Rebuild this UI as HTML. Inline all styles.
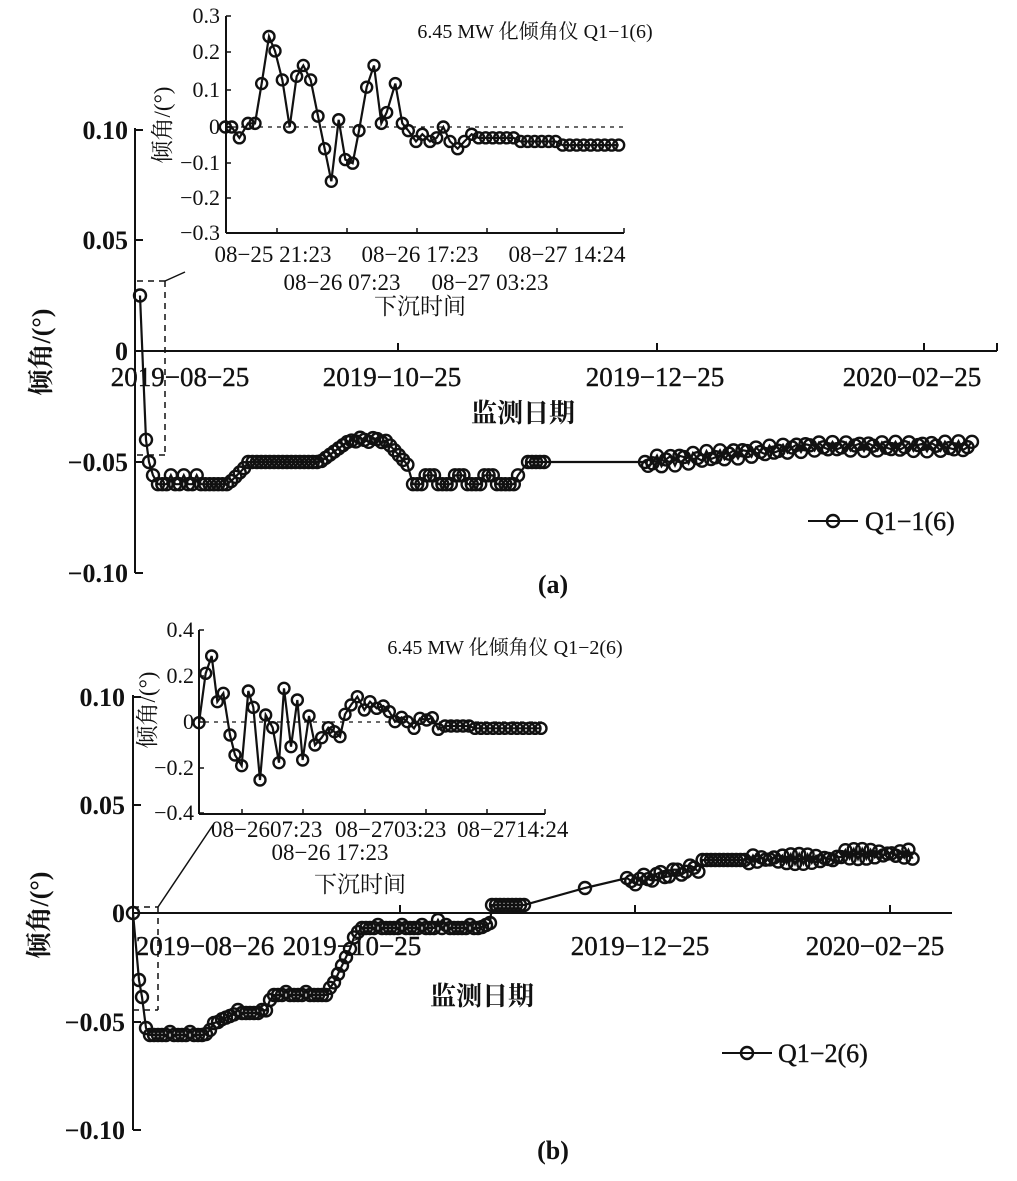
<!DOCTYPE html>
<html><head><meta charset="utf-8"><style>
body{margin:0;background:#fff}
text{font-family:"Liberation Serif","Noto Serif CJK SC",serif;fill:#111}
</style></head><body>
<svg id="s" width="1017" height="1176" xmlns="http://www.w3.org/2000/svg"></svg>
<script>
const S=document.getElementById('s');let h='';
function ln(x1,y1,x2,y2,w,d){h+=`<line x1="${x1}" y1="${y1}" x2="${x2}" y2="${y2}" stroke="#111" stroke-width="${w||2}" ${d?'stroke-dasharray="'+d+'"':''}/>`;}
function tx(x,y,t,sz,anc,extra){h+=`<text x="${x}" y="${y}" font-size="${sz}" text-anchor="${anc||'middle'}" ${extra||''}>${t}</text>`;}
function series(pts,r,w){h+=`<polyline fill="none" stroke="#111" stroke-width="${w||2.2}" points="${pts.map(p=>p.join(',')).join(' ')}"/>`;
 pts.forEach(p=>{h+=`<circle cx="${p[0]}" cy="${p[1]}" r="${r}" fill="none" stroke="#111" stroke-width="2.4"/>`;});}
const B='font-weight="bold"';
const D='stroke="#111" stroke-width="0.4"';
// ===== (a) main =====
ln(135,128,135,573);ln(135,351,997,351);
[[130,'0.10'],[240,'0.05'],[351,'0'],[462,'−0.05'],[573,'−0.10']].forEach(a=>{ln(135,a[0],143,a[0]);tx(128,a[0]+9,a[1],26,'end',B);});
[398,657,924,997].forEach(x=>ln(x,351,x,343));
tx(180,386,'2019−08−25',27,'middle',D);tx(392,386,'2019−10−25',27,'middle',D);tx(655,386,'2019−12−25',27,'middle',D);tx(912,386,'2020−02−25',27,'middle',D);
tx(523,422,'监测日期',26,'middle',B);
tx(0,0,'倾角/(°)',26,'middle','transform="translate(50,352) rotate(-90)" '+B);
function Ya(v){return 351-v*2220;}
let pa=[[140,Ya(0.025)],[146,Ya(-0.04)],[149,Ya(-0.05)],[153,Ya(-0.056)]];
for(let x=158;x<=410;x+=4.3){let v;
 if(x<228)v=-0.06+(Math.sin(x)>0.9?0.004:0);else if(x<248)v=-0.06+(x-228)*0.00045;else if(x<320)v=-0.05;else if(x<350)v=-0.05+(x-320)*0.00033;else if(x<385)v=-0.04+0.001*Math.sin(x);else v=-0.04-(x-385)*0.0005;
 pa.push([x,Ya(v)]);}
for(let x=413;x<=522;x+=4.2){pa.push([x,Ya(-0.06+(Math.sin(x*1.7)>0.3?0.004:0))]);}
for(let x=528;x<=545;x+=4)pa.push([x,Ya(-0.05)]);
pa.push([645,Ya(-0.05)]);
for(let x=648;x<=975;x+=4.5){let base=-0.05+Math.max(0,Math.min(1,(x-650)/160))*0.007;pa.push([x,Ya(base+0.004*Math.sin(x*0.9)+0.002*Math.sin(x*2.3))]);}
series(pa,6);
ln(137,281,165,281,1.5,'6,5');ln(165,281,165,455,1.5,'6,5');ln(137,455,165,455,1.5,'6,5');ln(165,281,185,272,1.5);
ln(808,521,858,521);h+=`<circle cx="833" cy="521" r="6" fill="none" stroke="#111" stroke-width="2.4"/>`;tx(865,530,'Q1−1(6)',26,'start',D);
tx(553,593,'(a)',26,'middle',B);
// ===== (a) inset =====
ln(226,16,226,233);ln(226,233,624,233);
[[16,'0.3'],[52,'0.2'],[90,'0.1'],[127,'0'],[163,'−0.1'],[198,'−0.2'],[233,'−0.3']].forEach(a=>{ln(226,a[0],231,a[0],1.5);tx(220,a[0]+7,a[1],22,'end');});
[277,347,417,487,557,624].forEach(x=>ln(x,233,x,228,1.5));
tx(273,262,'08−25 21:23',23);tx(342,290,'08−26 07:23',23);tx(420,262,'08−26 17:23',23);tx(490,290,'08−27 03:23',23);tx(567,262,'08−27 14:24',23);
tx(420,314,'下沉时间',23);
tx(535,38,'6.45 MW 化倾角仪 Q1−1(6)',20);
tx(0,0,'倾角/(°)',23,'middle','transform="translate(170,125) rotate(-90)"');
ln(232,127,624,127,1.3,'4,5');
const ia=[[316,0],[335,0],[358,-.03],[384,.01],[405,.01],[425,.12],[447,.25],[465,.21],[487,.13],[509,0],[530,.14],[550,.17],[572,.13],[594,.03],[614,-.06],[634,-.15],[656,.02],[676,-.09],[698,-.1],[717,-.01],[740,.11],[762,.17],[784,.01],[800,.04],[826,.12],[847,.01],[865,-.01],[888,-.04],[907,-.02],[930,-.04],[950,-.03],[970,0],[990,-.04],[1013,-.06],[1033,-.04],[1055,-.02]];
for(let x=1076;x<=1500;x+=21)ia.push([x,x<1200?-0.03:x<1320?-0.04:-0.05]);
series(ia.map(p=>[120+p[0]/3,127-p[1]*362]),5.5);
// ===== (b) main =====
ln(133,695,133,1130);ln(133,913,952,913);
[[697,'0.10'],[805,'0.05'],[913,'0'],[1022,'−0.05'],[1130,'−0.10']].forEach(a=>{ln(133,a[0],141,a[0]);tx(125,a[0]+9,a[1],26,'end',B);});
[400,635,890].forEach(x=>ln(x,913,x,905));
tx(205,955,'2019−08−26',27,'middle',D);tx(352,955,'2019−10−25',27,'middle',D);tx(640,955,'2019−12−25',27,'middle',D);tx(875,955,'2020−02−25',27,'middle',D);
tx(482,1005,'监测日期',26,'middle',B);
tx(0,0,'倾角/(°)',26,'middle','transform="translate(48,915) rotate(-90)" '+B);
let pb=[[133,913],[139,980],[142,997],[146,1028],[150,1035]];
for(let x=154;x<=490;x+=4){let y;
 if(x<205)y=1035;else if(x<220)y=1035-(x-205);else if(x<238)y=1020-(x-220)*0.4;else if(x<265)y=1013;else if(x<272)y=1013-(x-265)*2.6;else if(x<328)y=995;else if(x<360)y=995-(x-328)*2.1;else if(x<436)y=928;else if(x<440)y=920;else y=928-(x>480?(x-480)*0.5:0);
 pb.push([x,y+(Math.sin(x*1.3)>0.85?-3:0)]);}
for(let x=492;x<=527;x+=4)pb.push([x,905]);
pb.push([585,888]);
for(let x=627;x<=915;x+=4.2){let y;
 if(x<700)y=882-(x-627)*0.2+4*Math.sin(x*1.1);else if(x<745)y=860;else y=862-(x>840?8:3)+5*Math.sin(x*0.8);
 pb.push([x,y]);}
series(pb,6);
ln(133,907,158,907,1.5,'6,5');ln(158,907,158,1010,1.5,'6,5');ln(133,1010,158,1010,1.5,'6,5');ln(158,907,213,825,1.5);
ln(722,1053,772,1053);h+=`<circle cx="747" cy="1053" r="6" fill="none" stroke="#111" stroke-width="2.4"/>`;tx(778,1062,'Q1−2(6)',26,'start',D);
tx(553,1159,'(b)',26,'middle',B);
// ===== (b) inset =====
ln(199,630,199,814);ln(199,814,545,814);
[[630,'0.4'],[676,'0.2'],[722,'0'],[768,'−0.2'],[813,'−0.4']].forEach(a=>{ln(199,a[0],204,a[0],1.5);tx(194,a[0]+7,a[1],22,'end');});
[242,303,365,426,487,545].forEach(x=>ln(x,814,x,809,1.5));
tx(211,837,'08−2607:23',23,'start');tx(335,837,'08−2703:23',23,'start');tx(457,837,'08−2714:24',23,'start');
tx(330,860,'08−26 17:23',23);tx(360,892,'下沉时间',23);
tx(505,654,'6.45 MW 化倾角仪 Q1−2(6)',20);
tx(0,0,'倾角/(°)',23,'middle','transform="translate(155,710) rotate(-90)"');
ln(205,722,545,722,1.3,'4,5');
const ib=[[237,308],[257,160],[275,108],[292,245],[310,220],[330,345],[345,405],[365,437],[385,213],[400,262],[420,480],[437,285],[458,323],[477,428],[492,205],[513,380],[532,240],[548,420],[567,288],[585,375],[605,353],[625,323],[643,335],[660,350],[675,283],[693,255],[712,230],[733,270],[750,245],[770,265],[790,258],[808,275],[825,305],[845,292],[862,305],[882,325],[900,295],[920,300],[937,293],[955,328],[975,318]];
for(let x=993;x<=1270;x+=18)ib.push([x,x<1060?318:325]);
series(ib.map(p=>[120+p[0]/3,620+p[1]/3]),5.5);
S.innerHTML=h;
</script>
</body></html>
